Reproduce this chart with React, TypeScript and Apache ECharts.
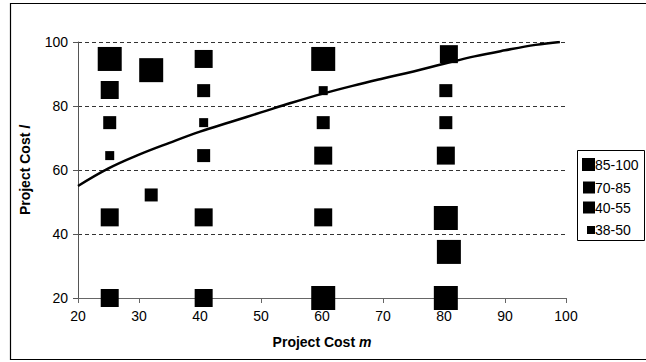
import React, { useEffect, useRef } from "react";
import * as echarts from "echarts";

const FONT = "'Liberation Sans', Arial, sans-serif";

// g(m) curve
const curveM = [20, 25, 30, 35, 40, 45, 50, 55, 60, 65, 70, 75, 80, 85, 90, 95, 99];
const curveG = [55, 60.5, 64.8, 68.5, 72, 75, 78, 81, 83.8, 86.3, 88.6, 90.8, 93.2, 95.5, 97.4, 99.1, 100];

// scatter groups [m, l]
const group85to100 = [[25.2, 94.7], [32, 91.2], [60.2, 94.7], [80.3, 45], [80.8, 34.4], [60.2, 20], [80.3, 20]];
const group70to85 = [[25.2, 85], [40.6, 94.7], [60.2, 64.5], [80.8, 96.2], [80.3, 64.5], [25.2, 45.2], [40.6, 45.2], [60.2, 45.2], [25.2, 20], [40.6, 20]];
const group40to55 = [[25.2, 74.8], [40.6, 84.8], [40.6, 64.5], [60.2, 74.8], [80.3, 84.8], [80.3, 74.8], [32, 52.2]];
const group38to50 = [[25.2, 64.5], [40.6, 74.8], [60.2, 84.8]];

const groupNames = ["85-100", "70-85", "40-55", "38-50"];
const groupSizes = [24, 18, 13, 9];
const legendIconSizes = [13, 12, 12, 8];

const labelPos = [[92.8, 93.1]];

export default function App() {
  const ref = useRef<HTMLDivElement>(null);
  useEffect(() => {
    if (!ref.current) return;
    const chart = echarts.init(ref.current, null, { renderer: "svg" });
    const groups = [group85to100, group70to85, group40to55, group38to50];
    const legendRowsY = [164.5, 187.5, 207.5, 230];
    const legendChildren: any[] = [
      { type: "rect", shape: { x: 577.5, y: 150.5, width: 67, height: 90 }, style: { fill: "#fff", stroke: "#000", lineWidth: 1 } },
    ];
    groupNames.forEach((n, i) => {
      const s = legendIconSizes[i];
      legendChildren.push({ type: "rect", shape: { x: 595 - s, y: legendRowsY[i] - s / 2, width: s, height: s }, style: { fill: "#000" } });
      legendChildren.push({ type: "text", x: 595, y: legendRowsY[i], style: { text: n, fill: "#000", font: `14px ${FONT}`, textVerticalAlign: "middle", textAlign: "left" } });
    });
    chart.setOption({
      animation: false,
      backgroundColor: "#fff",
      grid: { left: 78, right: 80, top: 42, bottom: 64 },
      xAxis: {
        type: "value", min: 20, max: 100, interval: 10,
        name: "{b|Project Cost }{i|m}", nameLocation: "middle", nameGap: 37,
        nameTextStyle: { rich: { b: { fontFamily: FONT, fontWeight: "bold", fontSize: 14, color: "#000" }, i: { fontFamily: FONT, fontWeight: "bold", fontStyle: "italic", fontSize: 14, color: "#000" } } },
        axisLine: { lineStyle: { color: "#666", width: 1 } },
        axisTick: { show: true, length: 5, lineStyle: { color: "#666" } },
        axisLabel: { fontFamily: FONT, fontSize: 14, color: "#000", margin: 11 },
        splitLine: { show: false },
      },
      yAxis: {
        type: "value", min: 20, max: 100, interval: 20,
        name: "{b|Project Cost }{i|l}", nameLocation: "middle", nameGap: 46,
        nameTextStyle: { rich: { b: { fontFamily: FONT, fontWeight: "bold", fontSize: 14, color: "#000" }, i: { fontFamily: FONT, fontWeight: "bold", fontStyle: "italic", fontSize: 14, color: "#000" } } },
        axisLine: { show: true, lineStyle: { color: "#555", width: 1 } },
        axisTick: { show: true, length: 5, lineStyle: { color: "#555" } },
        axisLabel: { fontFamily: FONT, fontSize: 14, color: "#000", margin: 10 },
        splitLine: { show: true, lineStyle: { color: "#333", type: [4, 3], width: 1 } },
      },
      graphic: [
        { type: "rect", shape: { x: 10.5, y: 3.5, width: 650, height: 356 }, style: { fill: "none", stroke: "#000", lineWidth: 1.2 }, z: 100 },
        { type: "group", children: legendChildren, z: 100 },
      ],
      series: [
        {
          type: "line", name: "g(m)", data: curveM.map((m, i) => [m, curveG[i]]), smooth: 0.4,
          showSymbol: false, symbol: "none", lineStyle: { color: "#000", width: 2.5 }, z: 3,
        },
        ...groups.map((g, i) => ({
          type: "scatter", name: groupNames[i], data: g, symbol: "rect", symbolSize: groupSizes[i],
          itemStyle: { color: "#000", opacity: 1 }, z: 2,
        })),
        {
          type: "scatter", name: "label", data: labelPos, symbolSize: 1, itemStyle: { opacity: 0 },
          label: {
            show: true, position: "inside", formatter: "{i|g}{n|(}{i|m}{n|)}",
            rich: {
              i: { fontFamily: FONT, fontStyle: "italic", fontSize: 17, color: "#000" },
              n: { fontFamily: FONT, fontSize: 17, color: "#000" },
            },
          },
        },
      ],
    });
    return () => chart.dispose();
  }, []);
  return <div ref={ref} style={{ position: "fixed", left: 0, top: 0, width: 646, height: 362 }} />;
}
